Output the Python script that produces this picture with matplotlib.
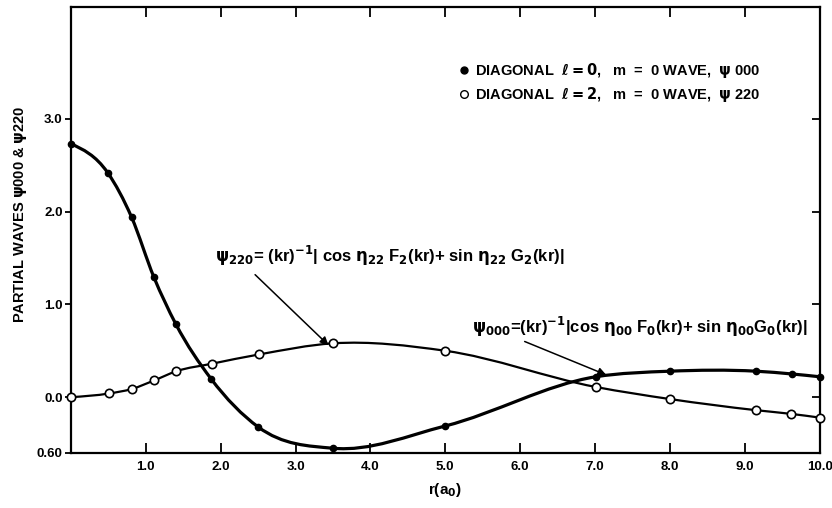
import numpy as np
import matplotlib as mpl
import matplotlib.pyplot as plt
from matplotlib.path import Path
from matplotlib.patches import PathPatch
from matplotlib.lines import Line2D

mpl.rcParams['font.family'] = ['Liberation Sans', 'DejaVu Sans']
mpl.rcParams['font.weight'] = 'bold'
mpl.rcParams['mathtext.fontset'] = 'dejavusans'
mpl.rcParams['mathtext.default'] = 'bf'

# Partial waves against r (Bohr radii)
r_000 = [0.0, 0.49, 0.81, 1.11, 1.40, 1.87, 2.50, 3.50, 5.00, 7.01, 8.00, 9.15, 9.63, 10.0]
psi_000 = [2.73, 2.42, 1.94, 1.29, 0.79, 0.20, -0.32, -0.55, -0.31, 0.22, 0.28, 0.28, 0.25, 0.22]

r_220 = [0.0, 0.51, 0.82, 1.11, 1.41, 1.88, 2.51, 3.50, 5.00, 7.01, 8.00, 9.15, 9.62, 10.0]
psi_220 = [0.0, 0.04, 0.09, 0.18, 0.28, 0.36, 0.46, 0.58, 0.50, 0.11, -0.02, -0.14, -0.18, -0.22]

xticks = [1, 2, 3, 4, 5, 6, 7, 8, 9, 10]
xticklabels = ['1.0', '2.0', '3.0', '4.0', '5.0', '6.0', '7.0', '8.0', '9.0', '10.0']
yticks = [-0.6, 0.0, 1.0, 2.0, 3.0]
yticklabels = ['0.60', '0.0', '1.0', '2.0', '3.0']


def smooth_path(x, y):
    """Cubic Hermite curve through the points, as a bezier path."""
    x = np.asarray(x, float)
    y = np.asarray(y, float)
    h = np.diff(x)
    s = np.diff(y) / h
    d = np.empty_like(y)
    d[1:-1] = (h[1:] * s[:-1] + h[:-1] * s[1:]) / (h[:-1] + h[1:])
    # quadratic end conditions
    d[0] = (3 * s[0] - d[1]) / 2
    d[-1] = (3 * s[-1] - d[-2]) / 2
    verts = [(x[0], y[0])]
    codes = [Path.MOVETO]
    for i in range(len(h)):
        verts += [(x[i] + h[i] / 3, y[i] + d[i] * h[i] / 3),
                  (x[i + 1] - h[i] / 3, y[i + 1] - d[i + 1] * h[i] / 3),
                  (x[i + 1], y[i + 1])]
        codes += [Path.CURVE4] * 3
    return Path(verts, codes)


fig = plt.figure(figsize=(8.32, 5.08), dpi=100)
ax = fig.add_axes([0.0852, 0.1085, 0.900, 0.8771])

ax.add_patch(PathPatch(smooth_path(r_000, psi_000), fill=False, lw=2.3,
                       ec='black', zorder=2))
ax.add_patch(PathPatch(smooth_path(r_220, psi_220), fill=False, lw=1.6,
                       ec='black', zorder=2))
ax.plot(r_000, psi_000, ls='none', marker='o', ms=4.5, mfc='black',
        mec='black', zorder=3, clip_on=False)
ax.plot(r_220, psi_220, ls='none', marker='o', ms=6, mfc='white',
        mec='black', mew=1.2, zorder=4, clip_on=False)

ax.set_xlim(0, 10)
ax.set_ylim(-0.6, 4.2)
ax.set_xticks(xticks)
ax.set_xticklabels(xticklabels)
ax.set_yticks(yticks)
ax.set_yticklabels(yticklabels)
ax.tick_params(axis='x', direction='in', top=True, length=7, width=1.3,
               labelsize=9.5, pad=6)
ax.tick_params(axis='y', direction='out', length=4, width=1.3,
               labelsize=9.5, pad=2)
ax.tick_params(axis='y', which='major', right=True)
for lbl in ax.get_xticklabels() + ax.get_yticklabels():
    lbl.set_fontweight('bold')
for side in ['left', 'right', 'top', 'bottom']:
    ax.spines[side].set_linewidth(1.6)

# right-hand ticks point into the frame
for tick in ax.yaxis.get_major_ticks():
    tick.tick2line.set_marker(mpl.markers.TICKLEFT)
    tick.tick2line.set_markersize(6)

fig.text(21 / 832, 1 - 214 / 508, r'PARTIAL WAVES $\psi$000 & $\psi$220',
         rotation=90, ha='center', va='center', fontsize=10.5, fontweight='bold')
fig.text(445 / 832, 1 - 490 / 508, r'r(a$_0$)', ha='center', va='center',
         fontsize=11, fontweight='bold')

handles = [Line2D([], [], ls='none', marker='o', ms=5, mfc='black', mec='black'),
           Line2D([], [], ls='none', marker='o', ms=5.5, mfc='white', mec='black', mew=1)]
labels = [r'DIAGONAL  $\ell = 0$,   m  =  0 WAVE,  $\psi$ 000',
          r'DIAGONAL  $\ell = 2$,   m  =  0 WAVE,  $\psi$ 220']
ax.legend(handles, labels, loc='upper left', bbox_to_anchor=(0.509, 0.895),
          frameon=False, handlelength=0.6, handletextpad=0.5, borderpad=0,
          labelspacing=0.3, prop={'size': 10.5, 'weight': 'bold'})

ax.text(1.92, 1.455,
        r'$\psi_{220}$= (kr)$^{-1}$| cos $\eta_{22}$ F$_2$(kr)+ sin $\eta_{22}$ G$_2$(kr)|',
        ha='left', va='baseline', fontsize=12)
ax.annotate('', xy=(3.44, 0.56), xytext=(2.46, 1.32),
            arrowprops=dict(arrowstyle='-|>', lw=1.1, color='black',
                            mutation_scale=12, shrinkA=0, shrinkB=0))

ax.text(5.355, 0.69,
        r'$\psi_{000}$=(kr)$^{-1}$|cos $\eta_{00}$ F$_0$(kr)+ sin $\eta_{00}$G$_0$(kr)|',
        ha='left', va='baseline', fontsize=12)
ax.annotate('', xy=(7.15, 0.24), xytext=(6.06, 0.60),
            arrowprops=dict(arrowstyle='-|>', lw=1.1, color='black',
                            mutation_scale=12, shrinkA=0, shrinkB=0))

fig.savefig('out.png', dpi=100)
